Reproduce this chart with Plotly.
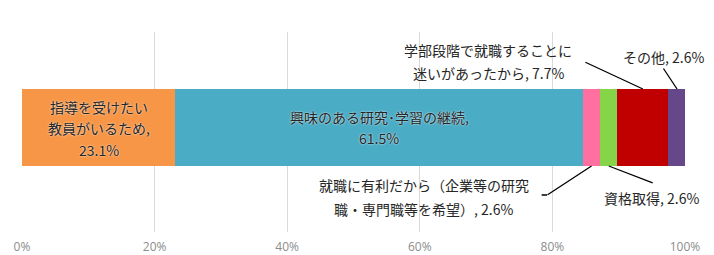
import plotly.graph_objects as go

categories = ["指導を受けたい教員がいるため", "興味のある研究･学習の継続",
              "就職に有利だから（企業等の研究職・専門職等を希望）", "資格取得",
              "学部段階で就職することに迷いがあったから", "その他"]
values = [23.1, 61.5, 2.6, 2.6, 7.7, 2.6]
colors = ["#F79646", "#4BACC6", "#FF6FA0", "#86D448", "#C00000", "#66478A"]
tick_vals = [0, 20, 40, 60, 80, 100]
tick_text = ["0%", "20%", "40%", "60%", "80%", "100%"]

W = 0.385
FONT = "Noto Sans CJK JP"
fig = go.Figure()
for c, v, col in zip(categories, values, colors):
    fig.add_trace(go.Bar(x=[v], y=[0], orientation="h", width=W, name=c,
                         marker=dict(color=col, line=dict(width=0)),
                         hoverinfo="name+x"))

cum = []
s = 0
for v in values:
    cum.append(s + v / 2)
    s += v

lab_font = dict(family=FONT, size=14, color="#262626", shadow="0px 0px 2px #ffffff")
ann = []
Y0 = 127.5  # screen pixel row of y=0


def lines(x, rows):
    for txt, py in rows:
        ann.append(dict(x=x, y=0, yshift=Y0 - py, text=txt, showarrow=False,
                        font=lab_font, align="center"))


lines(cum[0], [("指導を受けたい", 107), ("教員がいるため,", 128), ("%.1f%%" % values[0], 150)])
lines(cum[1], [("興味のある研究･学習の継続,", 117), ("%.1f%%" % values[1], 138)])
lines(70.3, [("学部段階で就職することに", 50), ("迷いがあったから, %.1f%%" % values[4], 73)])
lines(96.7, [("その他, %.1f%%" % values[5], 57)])
lines(60.6, [("就職に有利だから（企業等の研究", 185), ("職・専門職等を希望）, %.1f%%" % values[2], 209)])
lines(94.9, [("資格取得, %.1f%%" % values[3], 198)])

# leader lines
for hx, hy, tx, ty in [(cum[4], W / 2, 84.9, 0.3275),
                       (cum[5], W / 2, 96.7, 0.2975),
                       (cum[2], -W / 2, 79.2, -0.3375),
                       (79.2, -0.3375, 78.3, -0.3375),
                       (cum[3], -W / 2, 95.2, -0.2775)]:
    ann.append(dict(x=hx, y=hy, ax=tx, ay=ty, axref="x", ayref="y", xref="x", yref="y",
                    text="", font=dict(size=1), borderpad=0, showarrow=True, arrowhead=0,
                    arrowwidth=1.3, arrowcolor="#000000", standoff=0, startstandoff=0))

# the page body adds an 8px offset, so margins are shifted accordingly
fig.update_layout(
    width=714, height=255, barmode="stack", showlegend=False,
    margin=dict(l=14, r=37, t=24, b=31),
    paper_bgcolor="white", plot_bgcolor="white",
    annotations=ann,
    xaxis=dict(range=[0, 100], tickvals=tick_vals, ticktext=tick_text, automargin=False,
               showgrid=True, gridcolor="#D9D9D9", gridwidth=1, zeroline=False,
               showline=False, ticks="", ticklabelstandoff=6,
               tickfont=dict(family="Open Sans", size=12, color="#8C8C8C")),
    yaxis=dict(range=[-0.5225, 0.4775], showticklabels=False, showgrid=False,
               zeroline=False, showline=False, fixedrange=True, automargin=False),
)
fig.write_html("out.html")
